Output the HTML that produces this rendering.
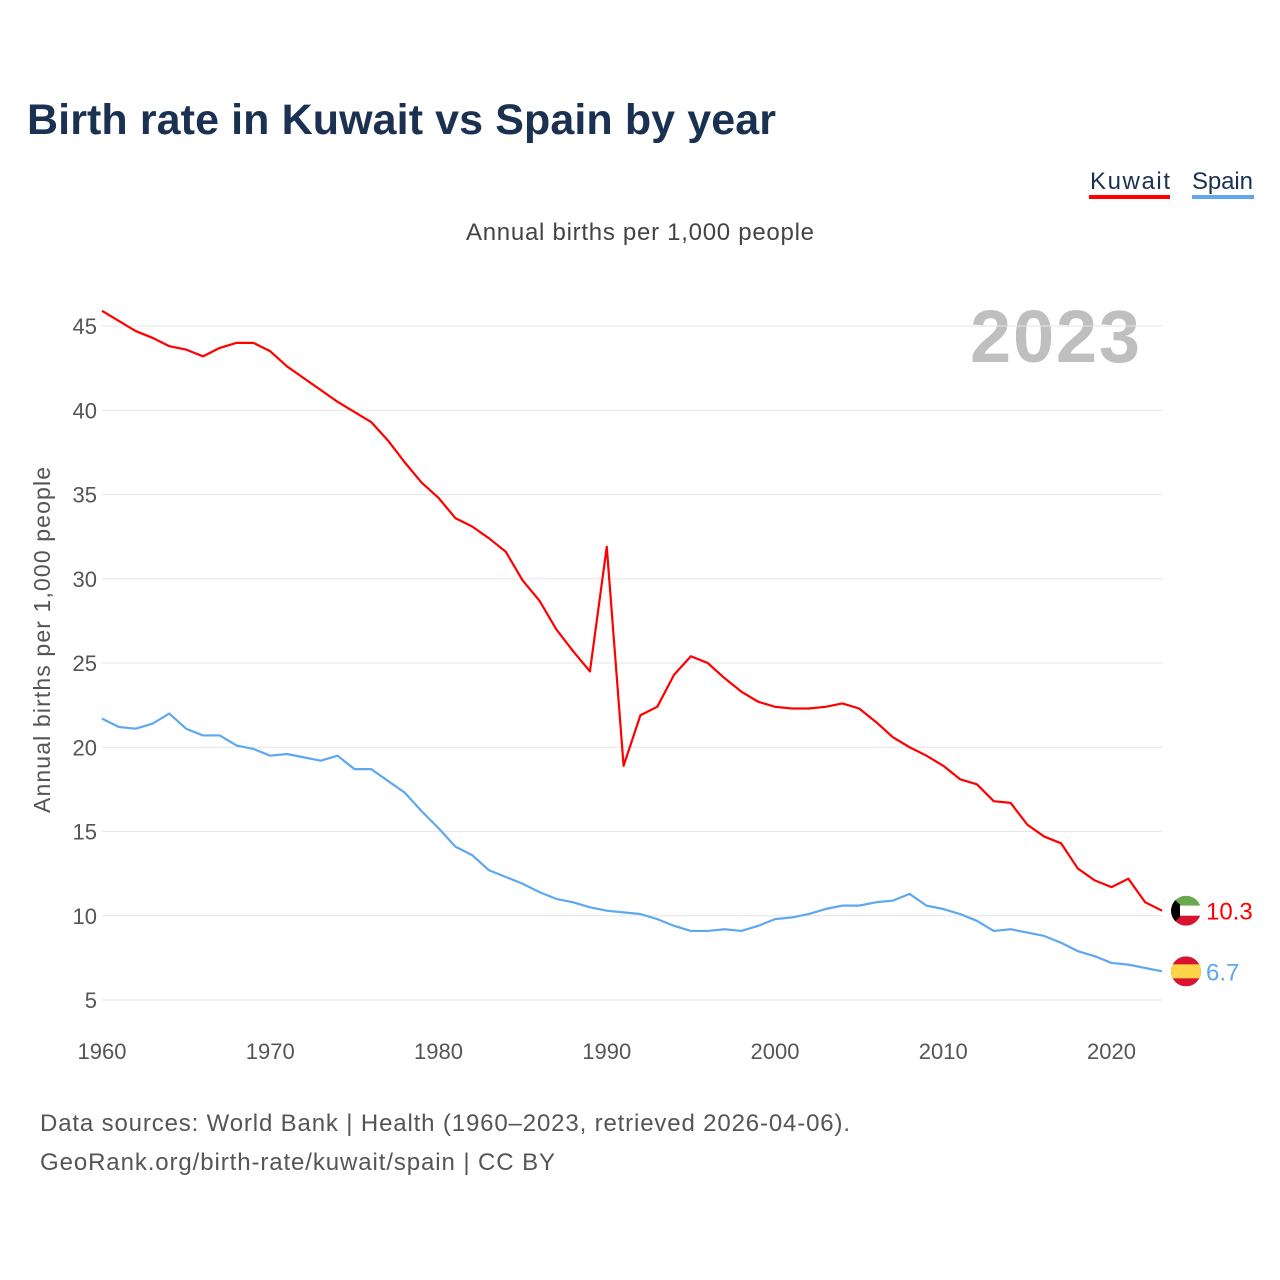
<!DOCTYPE html>
<html><head><meta charset="utf-8"><style>
body{margin:0;background:#fff;font-family:"Liberation Sans",sans-serif;}
svg{display:block}
</style></head><body>
<svg id="chart" width="1280" height="1280" viewBox="0 0 1280 1280">
<text x="27" y="134" font-size="43" font-weight="bold" fill="#1b3152" textLength="749">Birth rate in Kuwait vs Spain by year</text>
<g>
<text x="1090" y="189" font-size="24" fill="#1b3152" textLength="80">Kuwait</text>
<rect x="1089" y="195" width="81" height="4" fill="#ff0000"/>
<text x="1192" y="189" font-size="24" fill="#1b3152" textLength="61">Spain</text>
<rect x="1192" y="195" width="62" height="4" fill="#5ea8ef"/>
</g>
<text x="466" y="240" font-size="24" fill="#444" textLength="348">Annual births per 1,000 people</text>
<text x="970" y="362" font-size="74" font-weight="bold" fill="#bfbfbf" textLength="170">2023</text>
<text transform="translate(50,640) rotate(-90)" font-size="23" fill="#555" text-anchor="middle" textLength="346">Annual births per 1,000 people</text>
<g id="grid"></g><g id="series"></g><g id="ends"></g>
<text x="40" y="1131" font-size="24" fill="#555" textLength="810">Data sources: World Bank | Health (1960–2023, retrieved 2026-04-06).</text>
<text x="40" y="1170" font-size="24" fill="#555" textLength="515">GeoRank.org/birth-rate/kuwait/spain | CC BY</text>
</svg>
<script>
const years=[];for(let y=1960;y<=2023;y++)years.push(y);
const kuwait=[45.9,45.3,44.7,44.3,43.8,43.6,43.2,43.7,44.0,44.0,43.5,42.6,41.9,41.2,40.5,39.9,39.3,38.2,36.9,35.7,34.8,33.6,33.1,32.4,31.6,29.9,28.7,27.0,25.7,24.5,31.9,18.9,21.9,22.4,24.3,25.4,25.0,24.1,23.3,22.7,22.4,22.3,22.3,22.4,22.6,22.3,21.5,20.6,20.0,19.5,18.9,18.1,17.8,16.8,16.7,15.4,14.7,14.3,12.8,12.1,11.7,12.2,10.8,10.3];
const spain=[21.7,21.2,21.1,21.4,22.0,21.1,20.7,20.7,20.1,19.9,19.5,19.6,19.4,19.2,19.5,18.7,18.7,18.0,17.3,16.2,15.2,14.1,13.6,12.7,12.3,11.9,11.4,11.0,10.8,10.5,10.3,10.2,10.1,9.8,9.4,9.1,9.1,9.2,9.1,9.4,9.8,9.9,10.1,10.4,10.6,10.6,10.8,10.9,11.3,10.6,10.4,10.1,9.7,9.1,9.2,9.0,8.8,8.4,7.9,7.6,7.2,7.1,6.9,6.7];
const yTicks=[5,10,15,20,25,30,35,40,45];
const xTicks=[1960,1970,1980,1990,2000,2010,2020];
const NS="http://www.w3.org/2000/svg";
const X=y=>102+(y-1960)*(1162-102)/63;
const Y=v=>1000-(v-5)*(1000-326)/40;
function mk(t,a,p){const e=document.createElementNS(NS,t);for(const k in a)e.setAttribute(k,a[k]);p.appendChild(e);return e;}
const grid=document.getElementById('grid');
yTicks.forEach(v=>{
 const l=mk('line',{x1:102,x2:1162,y1:Y(v),y2:Y(v),stroke:'#e6e6e6','stroke-width':1},grid);
 
 
 const t=mk('text',{x:97,y:Y(v)+8,'font-size':22,fill:'#555','text-anchor':'end'},grid);t.textContent=v;
 
 
});
xTicks.forEach(v=>{
 const t=mk('text',{x:X(v),y:1059,'font-size':22,fill:'#555','text-anchor':'middle'},grid);t.textContent=v;
 
 
});
const ser=document.getElementById('series');
function line(d,c,n){const p=mk('polyline',{points:d.map((v,i)=>X(years[i])+','+Y(v)).join(' '),fill:'none',stroke:c,'stroke-width':2.2,'stroke-linejoin':'round'},ser);
 
 }
line(spain,'#5ea8ef','spain-line');line(kuwait,'#ff0000','kuwait-line');
const ends=document.getElementById('ends');
const cx=1186;
let ky=Y(kuwait[63]);
let kd=`<defs><clipPath id="ck"><circle cx="${cx}" cy="${ky}" r="15"/></clipPath><clipPath id="cs"><circle cx="${cx}" cy="${Y(spain[63])}" r="15"/></clipPath></defs>
<g clip-path="url(#ck)"><rect x="${cx-15}" y="${ky-15}" width="30" height="10" fill="#6aa84f"/><rect x="${cx-15}" y="${ky-5}" width="30" height="10" fill="#fff"/><rect x="${cx-15}" y="${ky+5}" width="30" height="10" fill="#d7132f"/><polygon points="${cx-15},${ky-15} ${cx-6},${ky-6} ${cx-6},${ky+6} ${cx-15},${ky+15}" fill="#000"/></g>`;
let sy=Y(spain[63]);
kd+=`<g clip-path="url(#cs)"><rect x="${cx-15}" y="${sy-15}" width="30" height="30" fill="#d7132f"/><rect x="${cx-15}" y="${sy-7}" width="30" height="14" fill="#fcd448"/></g>`;
ends.innerHTML=kd;
const tk=mk('text',{x:1206,y:ky+9,'font-size':24,fill:'#ff0000'},ends);tk.textContent=kuwait[63];


const ts=mk('text',{x:1206,y:sy+9,'font-size':24,fill:'#5ea8ef'},ends);ts.textContent=spain[63];


</script>
</body></html>
